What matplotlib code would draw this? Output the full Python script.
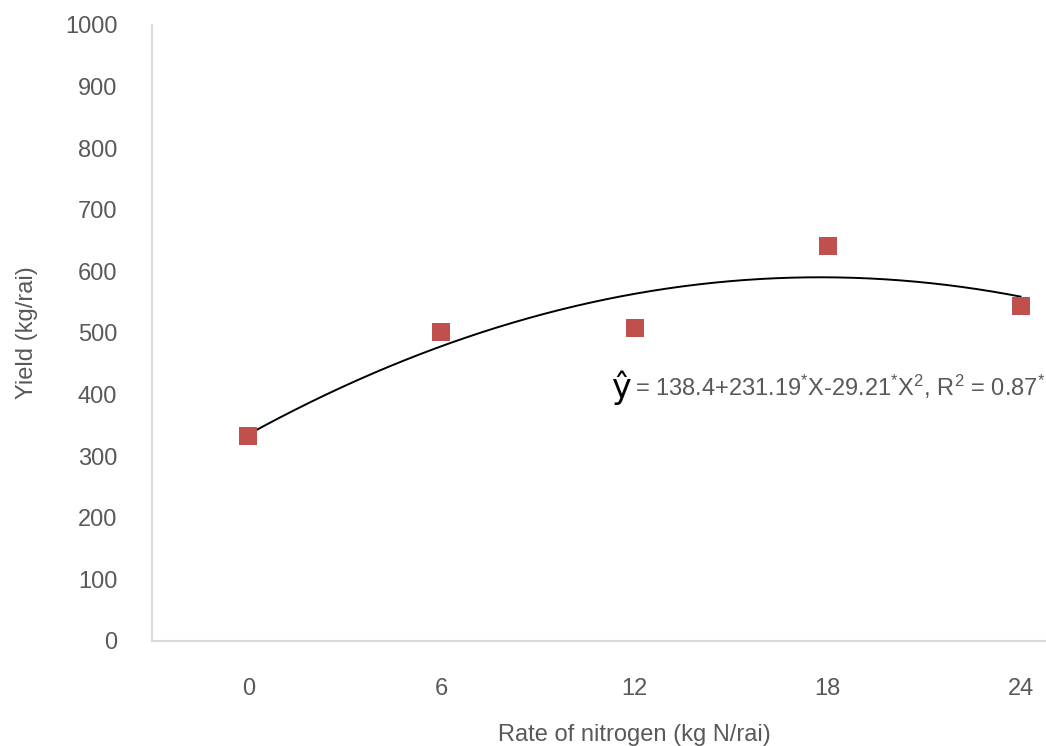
import numpy as np
import matplotlib
matplotlib.use('Agg')
import matplotlib.pyplot as plt
from matplotlib import font_manager

# data
rates = ['0', '6', '12', '18', '24']
yields = [333, 502, 508, 641, 543]
y_ticks = [0, 100, 200, 300, 400, 500, 600, 700, 800, 900, 1000]

names = {f.name for f in font_manager.fontManager.ttflist}
fam = 'Liberation Sans Narrow' if 'Liberation Sans Narrow' in names else 'Liberation Sans'
plt.rcParams['font.family'] = [fam, 'DejaVu Sans']
plt.rcParams['mathtext.fontset'] = 'custom'
plt.rcParams['mathtext.rm'] = fam
plt.rcParams['mathtext.default'] = 'regular'

grey = '#595959'
fig = plt.figure(figsize=(10.46, 7.46), dpi=100)
ax = fig.add_axes([0.1453, 0.1408, 0.9226, 0.8257])

x = np.arange(1, len(rates) + 1)
ax.scatter(x, yields, marker='s', s=150, color='#C0504D', zorder=3, linewidths=0)

# quadratic trend line
coef = np.polyfit(x, yields, 2)
xs = np.linspace(1, 5, 200)
ax.plot(xs, np.polyval(coef, xs), color='black', lw=1.4, zorder=2)

ax.set_xlim(0.5, 5.5)
ax.set_ylim(0, 1000)
ax.set_xticks(x)
ax.set_xticklabels(rates)
ax.set_yticks(y_ticks)
ax.tick_params(length=0, labelsize=17, colors=grey)
ax.tick_params(axis='x', pad=27)
ax.tick_params(axis='y', pad=25)
for s in ['top', 'right']:
    ax.spines[s].set_visible(False)
for s in ['left', 'bottom']:
    ax.spines[s].set_color('#d9d9d9')
    ax.spines[s].set_linewidth(1.5)

ax.set_xlabel('Rate of nitrogen (kg N/rai)', fontsize=17, color=grey, labelpad=17)
ax.set_ylabel('Yield (kg/rai)', fontsize=17, color=grey, labelpad=19)

fig.text(0.584, 0.466, 'ŷ', fontsize=24, color='black', family='DejaVu Sans')
fig.text(0.607, 0.469, r'= 138.4+231.19$^{*}$X-29.21$^{*}$X$^{2}$, R$^{2}$ = 0.87$^{*}$',
         fontsize=17, color=grey)

fig.savefig('out.png', dpi=100)
